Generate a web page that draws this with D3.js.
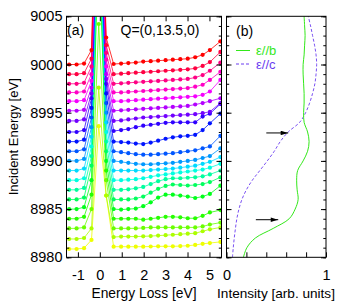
<!DOCTYPE html>
<html>
<head>
<meta charset="utf-8">
<script src="https://cdn.jsdelivr.net/npm/d3@7"></script>
<style>
body { margin: 0; background: #fff; }
svg text { font-family: "Liberation Sans", Arial, sans-serif; fill: #000; }
</style>
</head>
<body>
<svg width="350" height="306"></svg>
<script>
// incident energies, one spectrum each (top to bottom)
var incidentEnergies = [9000, 8999, 8998, 8997, 8996, 8995, 8994, 8993, 8992, 8991,
                        8990, 8989, 8988, 8987, 8986, 8985, 8984, 8983, 8982, 8981];

// energy loss of each measured point
var lossValues = [-1.4, -1.06, -0.72, -0.38, -0.05, 0.29, 0.63, 0.97, 1.3, 1.64, 1.98,
                  2.32, 2.66, 3.0, 3.33, 3.67, 4.01, 4.35, 4.69, 5.02, 5.5];

// intensity of each spectrum, plotted on top of its incident energy
var intensities = [
  [0, 0, 0.1, 1.5, 30, 2.8, 0.05, 0.1, 0.15, 0.2, 0.3, 0.35, 0.4, 0.45, 0.5, 0.55, 0.6, 0.75, 1.0, 1.5, 2.4],
  [0, 0, 0.1, 1.6, 30, 3.0, 0, 0.05, 0.1, 0.15, 0.2, 0.25, 0.3, 0.35, 0.4, 0.45, 0.5, 0.6, 0.85, 1.25, 2.3],
  [0, 0, 0.1, 1.8, 30, 3.2, 0, 0.05, 0.1, 0.15, 0.2, 0.25, 0.3, 0.35, 0.4, 0.45, 0.5, 0.65, 0.9, 1.35, 2.2],
  [0.1, 0.1, 0.2, 2.0, 30, 3.5, 0.1, 0.1, 0.15, 0.2, 0.25, 0.3, 0.35, 0.4, 0.45, 0.5, 0.55, 0.7, 0.9, 1.4, 2.25],
  [0.2, 0.2, 0.3, 2.3, 30, 3.8, 0.2, 0.2, 0.25, 0.3, 0.35, 0.4, 0.45, 0.5, 0.55, 0.6, 0.65, 0.7, 0.85, 1.2, 2.4],
  [0.2, 0.2, 0.3, 2.6, 30, 4.0, 0.2, 0.25, 0.3, 0.35, 0.4, 0.45, 0.5, 0.55, 0.6, 0.65, 0.7, 0.85, 1.0, 1.2, 1.5],
  [0.15, 0.15, 0.3, 3.0, 30, 4.5, 0.15, 0.2, 0.3, 0.4, 0.5, 0.55, 0.6, 0.65, 0.7, 0.75, 0.8, 0.85, 0.95, 1.1, 2.0],
  [0, 0, 0.2, 3.5, 30, 5.0, 0.1, 0.2, 0.3, 0.5, 0.65, 0.75, 0.85, 0.95, 1.0, 1.0, 1.0, 1.0, 1.6, 1.9, 2.9],
  [0, 0, 0.2, 3.5, 30, 5.0, 0, -0.05, -0.1, -0.2, -0.25, -0.1, 0.1, 0.3, 0.45, 0.55, 0.6, 0.7, 1.2, 1.9, 2.9],
  [0, 0, 0.2, 3.5, 30, 5.0, 0, -0.1, -0.2, -0.3, -0.35, -0.35, -0.3, -0.25, -0.2, -0.1, 0, 0.1, 0.3, 0.5, 1.6],
  [0, 0, 0.2, 3.5, 30, 5.0, 0, -0.1, -0.2, -0.3, -0.35, -0.35, -0.3, -0.25, -0.2, -0.1, 0, 0.1, 0.3, 0.5, 1.3],
  [0, 0, 0.2, 3.5, 30, 5.0, 0, 0, 0, 0, 0, 0.05, 0.1, 0.15, 0.2, 0.3, 0.4, 0.5, 0.7, 0.9, 1.4],
  [0, 0, 0.2, 3.5, 30, 5.0, 0, 0, 0.05, 0.1, 0.2, 0.35, 0.5, 0.6, 0.7, 0.8, 0.9, 1.0, 1.1, 1.3, 1.7],
  [0, 0, 0.2, 3.5, 30, 5.0, 0, 0, 0.05, 0.15, 0.3, 0.6, 0.9, 1.1, 1.2, 1.2, 1.25, 1.3, 1.4, 1.6, 2.0],
  [0, 0, 0.2, 3.5, 30, 5.0, 0, 0, 0, 0.1, 0.3, 0.7, 1.1, 1.4, 1.55, 1.5, 1.45, 1.5, 1.6, 1.8, 2.3],
  [0, 0, 0.2, 3.0, 30, 5.0, 0, -0.05, 0, 0.05, 0.3, 0.7, 1.2, 1.5, 1.5, 1.4, 1.3, 1.15, 1.3, 1.57, 2.43],
  [0, 0, 0.2, 2.5, 30, 5.0, 0, 0, 0, 0, -0.1, 0, 0.1, 0.2, 0.2, 0.15, 0.05, 0.05, 0.3, 0.65, 0.9],
  [0, 0, 0.1, 2.0, 21.2, 5.0, 0, 0, 0, 0, 0.05, 0.1, 0.1, 0.1, 0.1, 0.1, 0.1, 0.1, 0.2, 0.4, 0.6],
  [-0.1, -0.1, 0, 1.0, 15.6, 4.4, 0.1, 0.15, 0.15, 0.15, 0.18, 0.2, 0.25, 0.3, 0.34, 0.4, 0.45, 0.5, 0.7, 0.9, 1.1],
  [-0.14, -0.14, -0.05, 0.8, 12.6, 5.4, 0.1, 0.1, 0.1, 0.1, 0.1, 0.12, 0.14, 0.14, 0.14, 0.16, 0.2, 0.28, 0.4, 0.48, 0.6]
];

// panel (b): polarisation dependent spectra
var polEnergies = [8980, 8981, 8982, 8983, 8984, 8985, 8986, 8987, 8988, 8989, 8990, 8991, 8992,
                   8993, 8994, 8995, 8996, 8997, 8998, 8999, 9000, 9001, 9002, 9003, 9004, 9005];
var epsB = [0.17, 0.205, 0.29, 0.47, 0.63, 0.69, 0.72, 0.71, 0.705, 0.715, 0.77, 0.815, 0.83,
            0.815, 0.78, 0.775, 0.78, 0.78, 0.775, 0.77, 0.77, 0.78, 0.785, 0.79, 0.785, 0.78];
var epsC = [0.06, 0.068, 0.078, 0.09, 0.104, 0.125, 0.155, 0.2, 0.26, 0.335, 0.41, 0.48, 0.54,
            0.62, 0.735, 0.795, 0.835, 0.865, 0.888, 0.9, 0.906, 0.9, 0.885, 0.865, 0.845, 0.822];

// arrows in panel (b): [energy, from, to]
var arrows = [[8992.9, 0.40, 0.62], [8983.9, 0.295, 0.52]];

var svg = d3.select("svg");

var plotTop = 16.3, plotBottom = 257.3;
var x = d3.scaleLinear().domain([-1.52, 5.55]).range([66.5, 221.5]);
var y = d3.scaleLinear().domain([8980, 9005]).range([plotBottom, plotTop]);
var xb = d3.scaleLinear().domain([0, 1]).range([226.5, 326]);

var hue = d3.scaleLinear().domain([9000, 8981]).range([360, 64]);
function color(e) { return d3.hsl(hue(e), 1, 0.5).formatHex(); }

// clip for panel (a)
svg.append("clipPath").attr("id", "clipA")
    .append("rect")
    .attr("x", x.range()[0]).attr("y", plotTop)
    .attr("width", x.range()[1] - x.range()[0]).attr("height", plotBottom - plotTop);

var spectra = incidentEnergies.map(function (e, i) {
    return {
        energy: e,
        points: lossValues.map(function (l, j) { return {loss: l, value: e + intensities[i][j]}; })
    };
});

var line = d3.line()
    .x(function (d) { return x(d.loss); })
    .y(function (d) { return y(d.value); });

var gA = svg.append("g").attr("clip-path", "url(#clipA)");

var spec = gA.selectAll("g.spec")
    .data(spectra.slice().reverse())
    .enter()
    .append("g")
    .attr("class", "spec");

spec.append("path")
    .attr("d", function (d) { return line(d.points); })
    .attr("fill", "none")
    .attr("stroke", function (d) { return color(d.energy); })
    .attr("stroke-width", 0.8);

spec.selectAll("circle")
    .data(function (d) { return d.points.map(function (p) { return {p: p, e: d.energy}; }); })
    .enter()
    .append("circle")
    .attr("cx", function (d) { return x(d.p.loss); })
    .attr("cy", function (d) { return y(d.p.value); })
    .attr("r", 2.1)
    .attr("fill", function (d) { return color(d.e); });

// panel (b) curves
var curve = function (vals) {
    return d3.line()
        .x(function (d, i) { return xb(vals[i]); })
        .y(function (d) { return y(d); })
        .curve(d3.curveCatmullRom)(polEnergies);
};

svg.append("path")
    .attr("d", curve(epsC))
    .attr("fill", "none")
    .attr("stroke", "#6a3cf0")
    .attr("stroke-width", 0.9)
    .attr("stroke-dasharray", "3,2");

svg.append("path")
    .attr("d", curve(epsB))
    .attr("fill", "none")
    .attr("stroke", "#33e81a")
    .attr("stroke-width", 1);

svg.append("defs").append("marker")
    .attr("id", "head")
    .attr("viewBox", "0 0 10 6")
    .attr("refX", 10).attr("refY", 3)
    .attr("markerWidth", 8).attr("markerHeight", 4.5)
    .attr("markerUnits", "userSpaceOnUse")
    .attr("orient", "auto")
    .append("path")
    .attr("d", "M0,0L10,3L0,6Z")
    .attr("fill", "#000");

svg.selectAll("line.arrow")
    .data(arrows)
    .enter()
    .append("line")
    .attr("class", "arrow")
    .attr("x1", function (d) { return xb(d[1]); })
    .attr("x2", function (d) { return xb(d[2]); })
    .attr("y1", function (d) { return y(d[0]); })
    .attr("y2", function (d) { return y(d[0]); })
    .attr("stroke", "#000")
    .attr("stroke-width", 1)
    .attr("marker-end", "url(#head)");

// axes (ticks point inward)
function ticksOnly(g) { g.select(".domain").remove(); }

var yTicks = [8980, 8985, 8990, 8995, 9000, 9005];
var yMinor = d3.range(8980, 9006, 1);

svg.append("g").attr("transform", "translate(" + x.range()[0] + ",0)")
    .call(d3.axisLeft(y).tickValues(yTicks).tickFormat(String).tickSize(-5).tickPadding(4))
    .call(ticksOnly);
svg.append("g").attr("transform", "translate(" + x.range()[0] + ",0)")
    .call(d3.axisLeft(y).tickValues(yMinor).tickFormat("").tickSize(-2.7))
    .call(ticksOnly);
[x.range()[1], xb.range()[1]].forEach(function (px) {
    svg.append("g").attr("transform", "translate(" + px + ",0)")
        .call(d3.axisRight(y).tickValues(yTicks).tickFormat("").tickSize(-5))
        .call(ticksOnly);
    svg.append("g").attr("transform", "translate(" + px + ",0)")
        .call(d3.axisRight(y).tickValues(yMinor).tickFormat("").tickSize(-2.7))
        .call(ticksOnly);
});
svg.append("g").attr("transform", "translate(" + xb.range()[0] + ",0)")
    .call(d3.axisLeft(y).tickValues(yTicks).tickFormat("").tickSize(-5))
    .call(ticksOnly);
svg.append("g").attr("transform", "translate(" + xb.range()[0] + ",0)")
    .call(d3.axisLeft(y).tickValues(yMinor).tickFormat("").tickSize(-2.7))
    .call(ticksOnly);

var xTicks = [-1, 0, 1, 2, 3, 4, 5];
svg.append("g").attr("transform", "translate(0," + plotBottom + ")")
    .call(d3.axisBottom(x).tickValues(xTicks).tickFormat(String).tickSize(-5).tickPadding(12))
    .call(ticksOnly);
svg.append("g").attr("transform", "translate(0," + plotTop + ")")
    .call(d3.axisTop(x).tickValues(xTicks).tickFormat("").tickSize(-5))
    .call(ticksOnly);

svg.append("g").attr("transform", "translate(0," + plotBottom + ")")
    .call(d3.axisBottom(xb).tickValues([0, 0.2, 0.4, 0.6, 0.8, 1]).tickFormat(function (d) {
        return d === 0 || d === 1 ? d : "";
    }).tickSize(-5).tickPadding(12))
    .call(ticksOnly);

svg.selectAll(".tick text").attr("font-size", 14.5).attr("font-family", null);

// frames
[x, xb].forEach(function (s) {
    svg.append("rect")
        .attr("x", s.range()[0]).attr("y", plotTop)
        .attr("width", s.range()[1] - s.range()[0]).attr("height", plotBottom - plotTop)
        .attr("fill", "none").attr("stroke", "#000").attr("stroke-width", 1);
});

// labels
svg.append("text")
    .attr("transform", "translate(18," + (plotTop + plotBottom) / 2 + ") rotate(-90)")
    .attr("text-anchor", "middle")
    .attr("font-size", 13)
    .text("Incident Energy [eV]");
svg.append("text")
    .attr("x", (x.range()[0] + x.range()[1]) / 2).attr("y", 298)
    .attr("text-anchor", "middle").attr("font-size", 13.8)
    .text("Energy Loss [eV]");
svg.append("text")
    .attr("x", 276).attr("y", 298)
    .attr("text-anchor", "middle").attr("font-size", 13.6)
    .text("Intensity [arb. units]");

svg.append("text").attr("x", 67).attr("y", 35).attr("font-size", 14).text("(a)");
svg.append("text").attr("x", 120.5).attr("y", 35).attr("font-size", 14).text("Q=(0,13.5,0)");
svg.append("text").attr("x", 236).attr("y", 36).attr("font-size", 14).text("(b)");

var legend = [
    {label: "\u03b5//b", color: "#33e81a", dash: null, yy: 50.5},
    {label: "\u03b5//c", color: "#6a3cf0", dash: "3,2", yy: 64}
];
legend.forEach(function (d) {
    svg.append("line")
        .attr("x1", 236).attr("x2", 250).attr("y1", d.yy).attr("y2", d.yy)
        .attr("stroke", d.color).attr("stroke-width", 1)
        .attr("stroke-dasharray", d.dash);
    svg.append("text")
        .attr("x", 256).attr("y", d.yy + 4.5)
        .attr("font-size", 13)
        .style("fill", d.color)
        .text(d.label);
});
</script>
</body>
</html>
